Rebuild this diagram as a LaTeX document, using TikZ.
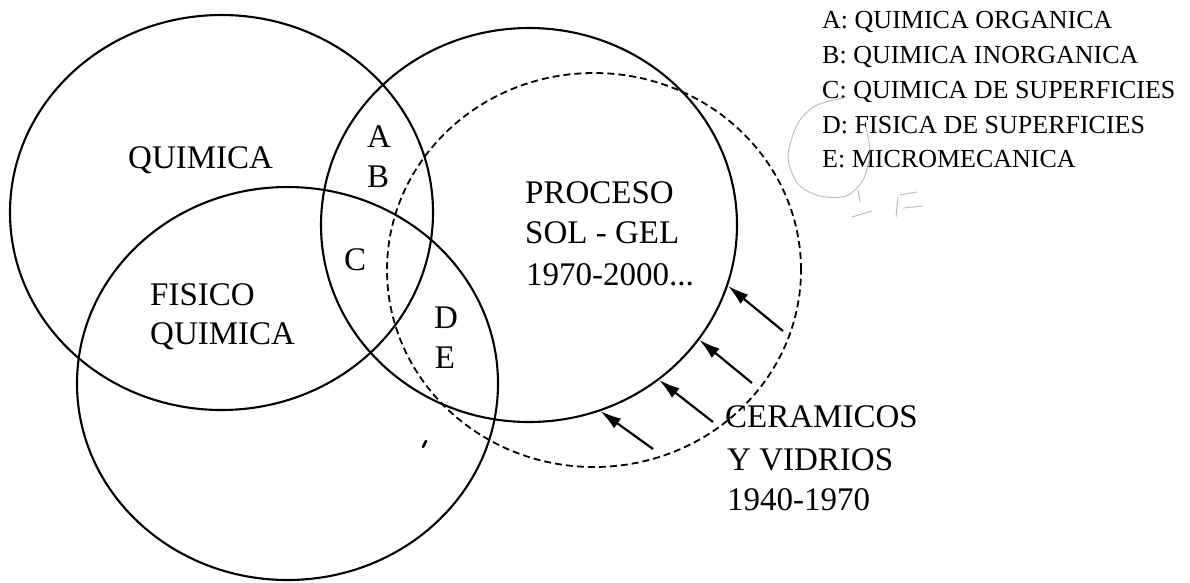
\documentclass[tikz,border=0pt]{standalone}
\usepackage{fontspec}
\setmainfont{Liberation Serif}
\usetikzlibrary{shapes.geometric,arrows.meta}
\begin{document}
\begin{tikzpicture}[x=1pt,y=-1pt,
  field/.style={draw, ellipse, line width=2.1pt, inner sep=0pt},
  era/.style={field, dash pattern=on 7pt off 4pt, line width=1.8pt},
  lbl/.style={inner sep=0pt, anchor=base west, font=\fontsize{33}{40}\selectfont},
  zone/.style={inner sep=0pt, anchor=base, font=\fontsize{33}{40}\selectfont},
  key/.style={inner sep=0pt, anchor=base west, font=\fontsize{26}{30}\selectfont},
  push/.style={line width=2.2pt, -{Latex[length=21pt,width=12pt]}},
  pencil/.style={gray!55, line width=0.9pt, line cap=round, line join=round}]
\useasboundingbox (0,0) rectangle (1190,582);

% the four fields
\node[field, minimum width=423pt, minimum height=395pt] (Q) at (221.5,212.5) {};
\node[field, minimum width=421pt, minimum height=393pt] (F) at (287.5,383.5) {};
\node[field, minimum width=416pt, minimum height=394pt] (P) at (529,225) {};
\node[era,   minimum width=414pt, minimum height=394pt] (V) at (594,270) {};

% field names
\node[lbl] (quim) at (128,168) {QUIMICA};
\node[lbl] (fis1) at (150,305) {FISICO};
\node[lbl] (fis2) at (150,344) {QUIMICA};
\node[lbl] (pro1) at (525,203) {PROCESO};
\node[lbl] (pro2) at (525,243) {SOL - GEL};
\node[lbl] (pro3) at (526,285) {1970-2000...};
\node[lbl] (cer1) at (725,427) {CERAMICOS};
\node[lbl] (cer2) at (727,470) {Y VIDRIOS};
\node[lbl] (cer3) at (727,510) {1940-1970};

% overlap zones
\node[zone] (zA) at (379,147) {A};
\node[zone] (zB) at (378,187) {B};
\node[zone] (zC) at (355,270) {C};
\node[zone] (zD) at (446,328) {D};
\node[zone] (zE) at (445,368) {E};

% key
\node[key] (kA) at (822,28)  {A: QUIMICA ORGANICA};
\node[key] (kB) at (822,63)  {B: QUIMICA INORGANICA};
\node[key] (kC) at (822,98)  {C: QUIMICA DE SUPERFICIES};
\node[key] (kD) at (822,133) {D: FISICA DE SUPERFICIES};
\node[key] (kE) at (822,167) {E: MICROMECANICA};

% ceramics and glass feeding the sol-gel process
\coordinate (s1) at (783,331);
\coordinate (s2) at (752,383);
\coordinate (s3) at (713,422);
\coordinate (s4) at (653,449);
\draw[push] (s1) -- (P.-17.9);
\draw[push] (s2) -- (P.-34.9);
\draw[push] (s3) -- (P.-50.5);
\draw[push] (s4) -- (P.-69.3);

% pencil notes around the key
\draw[pencil] plot[smooth] coordinates {(847,97) (815,106) (797,125) (788,157) (798,184) (820,196) (846,196) (863,180) (870,153) (866,128)};
\draw[pencil] (858,190) -- (860,202);
\draw[pencil] (852,217) -- (872,211);
\draw[pencil] (898,197) -- (896,217);
\draw[pencil] (900,195) -- (917,192);
\draw[pencil] (903,208) -- (923,206);

% stray mark
\draw[line width=2.6pt, line cap=round] (423,447) -- (426,441);
\end{tikzpicture}
\end{document}
